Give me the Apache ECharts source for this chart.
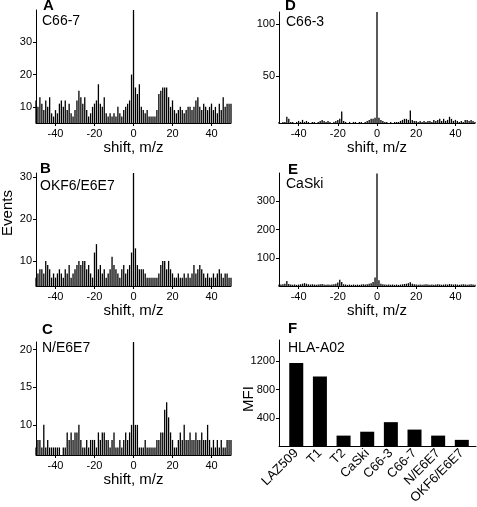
<!DOCTYPE html>
<html><head><meta charset="utf-8">
<script src="https://cdn.jsdelivr.net/npm/echarts@6/dist/echarts.min.js"></script>
<style>html,body{margin:0;padding:0;background:#fff}#c{width:477px;height:507px}</style>
</head><body><div id="c"></div>
<script>
// shift bins, m/z
const shifts = [];
for (let s = -50; s <= 50; s++) shifts.push(s);
const shiftTicks = [-40, -20, 0, 20, 40];

// A: C66-7
const eventsA = [12,10,13,11,9,12,10,13,8,7, 9,8,11,12,10,12,9,11,8,7, 9,12,15,13,11,13,9,7,8,10,
 11,12,17,11,10,13,8,7,8,7, 8,7,10,8,7,9,10,11,12,20, 40,16,14,17,10,9,8,9,7,7,
 7,7,9,14,15,16,16,16,13,10, 12,9,8,9,10,9,8,9,10,10, 9,10,12,13,10,9,11,10,9,10,
 11,9,10,8,11,9,13,10,11,11,11];
// B: OKF6/E6E7
const eventsB = [6,7,8,8,7,10,9,8,6,7, 6,7,8,7,6,8,7,9,6,7, 8,9,10,9,10,10,8,9,7,6,
 12,14,8,9,7,8,6,7,8,11, 9,8,7,6,8,9,7,8,9,12, 31,13,9,8,8,8,7,6,6,6,
 6,6,6,7,9,10,10,8,10,8, 7,6,6,7,6,6,7,6,7,6, 7,9,7,8,9,8,7,6,7,6,
 6,7,6,7,8,7,6,7,7,6,6];
// C: N/E6E7
const eventsC = [7,8,8,7,10,7,8,7,7,7, 7,7,7,6,7,7,9,8,9,8, 9,9,10,8,7,7,8,7,8,8,
 8,7,9,8,9,9,8,8,7,8, 9,7,7,8,7,8,9,8,9,10, 21,10,10,7,7,7,8,7,7,7,
 7,7,8,8,9,9,12,13,11,9, 8,7,7,8,9,8,10,8,8,9, 8,8,9,8,8,9,8,8,10,8,
 7,8,7,8,7,8,7,7,8,8,8];
// D: C66-3
const eventsD = [6,5,6,6,11,9,6,6,5,6, 7,6,8,6,7,6,5,6,6,5, 6,7,8,7,6,7,6,5,6,7,
 8,9,16,7,6,5,6,5,6,6, 5,6,6,5,6,7,8,9,9,10, 112,10,8,7,6,6,5,6,5,6,
 6,6,7,8,9,9,8,17,8,7, 7,6,7,6,7,6,7,7,6,8, 7,8,9,7,9,7,8,11,9,7,
 8,7,6,7,6,8,8,7,8,7,6];
// E: CaSki
const eventsE = [4,5,6,8,18,7,5,4,5,4, 5,6,8,10,8,6,5,6,5,4, 5,6,7,5,4,5,4,5,6,8,
 12,22,14,6,5,4,5,4,5,4, 5,4,5,6,5,6,8,10,14,30, 398,20,8,6,5,4,5,4,5,4,
 5,4,5,6,7,8,10,13,8,6, 5,4,5,4,5,6,5,4,5,4, 5,6,5,4,5,6,5,7,6,5,
 6,5,4,5,6,5,4,5,6,5,4];

// F: HLA-A02
const cellLines = ['LAZ509','T1','T2','CaSki','C66-3','C66-7','N/E6E7','OKF6/E6E7'];
const mfiValues = [1175, 985, 150, 205, 340, 235, 150, 90];
const mfiTicks = [400, 800, 1200];

const FONT = '"Liberation Sans", Arial, Helvetica, sans-serif';
const hist = [
  {vals: eventsA, min: 5, max: 40, ticks: [10,20,30], grid: {left:36, top:10, width:195, height:113}},
  {vals: eventsB, min: 4, max: 31, ticks: [10,20,30], grid: {left:36, top:173, width:195, height:113}},
  {vals: eventsC, min: 6, max: 21, ticks: [10,15,20], grid: {left:36, top:342, width:195, height:113}},
  {vals: eventsD, min: 5, max: 112, ticks: [50,100], grid: {left:279, top:12, width:196, height:111}},
  {vals: eventsE, min: 0, max: 400, ticks: [100,200,300], grid: {left:279, top:173, width:196, height:113}}
];

const axisLineStyle = {show: true, onZero: false, lineStyle: {color: '#000', width: 1}};
const grids = [], xAxes = [], yAxes = [], series = [];
hist.forEach((h, i) => {
  grids.push(h.grid);
  xAxes.push({
    type: 'value', gridIndex: i, min: -50, max: 50,
    axisLine: axisLineStyle,
    axisTick: {show: true, length: 3, customValues: shiftTicks, lineStyle: {color: '#000'}},
    axisLabel: {customValues: shiftTicks, formatter: v => String(v), color: '#000', fontSize: 11, fontFamily: FONT, margin: 5},
    splitLine: {show: false},
    name: 'shift, m/z', nameLocation: 'middle', nameGap: 13,
    nameTextStyle: {color: '#000', fontSize: 15, fontFamily: FONT}
  });
  yAxes.push({
    type: 'value', gridIndex: i, min: h.min, max: h.max,
    axisLine: axisLineStyle,
    axisTick: {show: true, length: 3, customValues: h.ticks, lineStyle: {color: '#000'}},
    axisLabel: {customValues: h.ticks, formatter: v => String(v), color: '#000', fontSize: 11, fontFamily: FONT, margin: 4},
    splitLine: {show: false}
  });
  series.push({
    type: 'bar', xAxisIndex: i, yAxisIndex: i, barWidth: 1.3,
    itemStyle: {color: '#000'},
    data: shifts.map((s, k) => [s, h.vals[k]])
  });
});

// panel F
grids.push({left: 279, top: 340, width: 197, height: 115});
xAxes.push({
  type: 'value', gridIndex: 5, min: -0.73, max: 7.6,
  axisLine: axisLineStyle, axisTick: {show: false},
  axisLabel: {customValues: cellLines.map((c, k) => k), formatter: v => cellLines[Math.round(v)],
    rotate: 45, color: '#000', fontSize: 13, fontFamily: FONT, margin: 5},
  splitLine: {show: false}
});
yAxes.push({
  type: 'value', gridIndex: 5, min: 0, max: 1500,
  axisLine: axisLineStyle,
  axisTick: {show: true, length: 3, customValues: mfiTicks, lineStyle: {color: '#000'}},
  axisLabel: {customValues: mfiTicks, formatter: v => String(v), color: '#000', fontSize: 11, fontFamily: FONT, margin: 4},
  splitLine: {show: false}
});
series.push({
  type: 'bar', xAxisIndex: 5, yAxisIndex: 5, barWidth: 14,
  itemStyle: {color: '#000'},
  data: cellLines.map((c, k) => [k, mfiValues[k]])
});

function txt(x, y, text, size, bold, rot) {
  return {type: 'text', x: x, y: y, rotation: rot || 0,
    style: {text: text, fontSize: size, fontWeight: bold ? 'bold' : 'normal', fontFamily: FONT,
      fill: '#000', align: rot ? 'center' : 'left', verticalAlign: 'middle',
      textAlign: rot ? 'center' : 'left', textVerticalAlign: 'middle'}};
}
const graphic = [
  txt(43, 5.5, 'A', 15, true), txt(42, 21.5, 'C66-7', 14),
  txt(40, 168.5, 'B', 15, true), txt(40, 186.5, 'OKF6/E6E7', 14),
  txt(42, 330, 'C', 15, true), txt(42, 348, 'N/E6E7', 14),
  txt(285, 6, 'D', 15, true), txt(286, 22.5, 'C66-3', 14),
  txt(288, 170, 'E', 15, true), txt(286, 184.5, 'CaSki', 14),
  txt(288, 328.5, 'F', 15, true), txt(288, 348, 'HLA-A02', 14),
  txt(8, 213, 'Events', 15, false, Math.PI / 2),
  txt(249, 399, 'MFI', 15, false, Math.PI / 2)
];

const chart = echarts.init(document.getElementById('c'), null, {renderer: 'canvas'});
chart.setOption({
  animation: false, backgroundColor: '#fff',
  grid: grids, xAxis: xAxes, yAxis: yAxes, series: series, graphic: graphic
});
</script></body></html>
